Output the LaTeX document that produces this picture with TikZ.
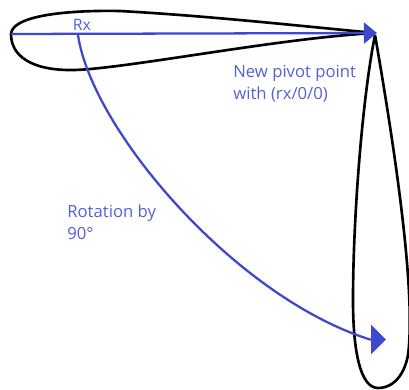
\documentclass[tikz,border=0pt]{standalone}
\usepackage{fontspec}
\setmainfont{Open Sans}
\definecolor{rotblue}{RGB}{62,72,204}
\definecolor{rottext}{RGB}{84,96,214}
\usetikzlibrary{arrows.meta,positioning}

\begin{document}
\begin{tikzpicture}[x=0.02cm,y=-0.02cm,
  wingline/.style={line width=1.5pt,black,line join=round},
  rotline/.style={line width=1.3pt,rotblue},
  pivotarr/.style={rotline,-{Triangle[length=7.5pt,width=12pt]}},
  rotarr/.style={rotline,-{Triangle[length=8.5pt,width=16.5pt]}},
  rotlabel/.style={font=\fontsize{9.5pt}{12.6pt}\selectfont,text=rottext,align=left,inner sep=0pt,anchor=north west}
]
  \useasboundingbox (0,0) rectangle (409,389);

  % Upper blade
  \draw[wingline] (375,33) .. controls (300,26) and (210,16) .. (120,11)
    .. controls (70,10) and (12,15) .. (11,34)
    .. controls (11,55) and (30,71) .. (75,70)
    .. controls (130,68) and (280,38) .. (375,33);

  % Lower blade
  \draw[wingline] (375,35) .. controls (362,100) and (353,220) .. (353,300)
    .. controls (353,350) and (360,388) .. (378,388)
    .. controls (396,388) and (408,370) .. (409,345)
    .. controls (414,280) and (395,150) .. (375,35);

  % Pivot and rotation points
  \coordinate (bladeroot) at (11,34);
  \coordinate (pivot) at (377,33);
  \coordinate (rx) at (78,35);
  \coordinate (rxbend) at (370,339.5);
  \coordinate (rxend) at (386,339.5);

  \draw[pivotarr] (bladeroot) -- (pivot);
  \draw[rotarr] (rx) .. controls (92,130) and (235,297) .. (rxbend) -- (rxend);

  % Labels
  \node[rotlabel,font=\fontsize{9pt}{11pt}\selectfont] (rxlabel) at (72.5,19) {Rx};
  \node[rotlabel] (pivotlabel) at (233,64.5) {New pivot point\\with (rx/0/0)};
  \node[rotlabel] (rotlabeltext) at (67,204) {Rotation by\\90°};
\end{tikzpicture}
\end{document}
